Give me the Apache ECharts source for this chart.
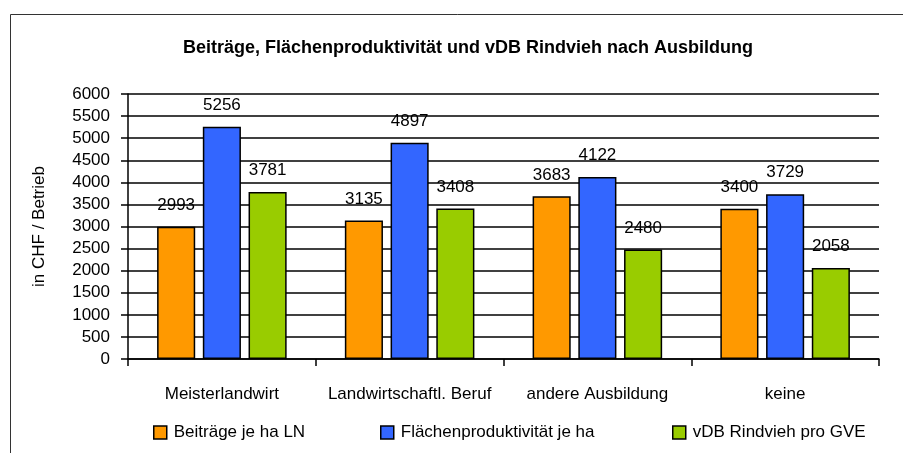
<!DOCTYPE html>
<html>
<head>
<meta charset="utf-8">
<script src="https://cdn.jsdelivr.net/npm/echarts@6/dist/echarts.min.js"></script>
<style>
  html, body { margin: 0; padding: 0; background: #fff; }
  #chart { width: 903px; height: 453px; }
</style>
</head>
<body>
<div id="chart"></div>
<script>
// Ausbildung categories and values (CHF per Betrieb)
const categories = ['Meisterlandwirt', 'Landwirtschaftl. Beruf', 'andere Ausbildung', 'keine'];
const seriesNames = ['Beiträge je ha LN', 'Flächenproduktivität je ha', 'vDB Rindvieh pro GVE'];
const beitraege = [2993, 3135, 3683, 3400];
const flaechenproduktivitaet = [5256, 4897, 4122, 3729];
const vdbRindvieh = [3781, 3408, 2480, 2058];
const yTicks = { min: 0, max: 6000, step: 500 };

const colors = ['#FF9900', '#3366FF', '#99CC00'];
const font = '"Liberation Sans", Arial, sans-serif';
const valuesBySeries = [beitraege, flaechenproduktivitaet, vdbRindvieh];

const chart = echarts.init(document.getElementById('chart'), null, { renderer: 'canvas' });

const series = valuesBySeries.map((vals, i) => ({
  name: seriesNames[i],
  type: 'bar',
  data: vals,
  barGap: '20%',
  barCategoryGap: '31%',
  itemStyle: { color: colors[i], borderColor: '#000', borderWidth: 1.5 },
  label: {
    show: true,
    position: 'top',
    distance: 13,
    color: '#000',
    fontFamily: font,
    fontSize: 17
  },
  emphasis: { disabled: true }
}));

// one legend per entry so each sits at its own column
const legendLefts = [148, 375, 667];
const legends = seriesNames.map((n, i) => ({
  data: [n],
  left: legendLefts[i],
  top: 419,
  itemWidth: 13,
  itemHeight: 13,
  itemGap: 0,
  icon: 'rect',
  itemStyle: { borderColor: '#000', borderWidth: 1.5 },
  textStyle: { color: '#000', fontFamily: font, fontSize: 17, padding: [0, 0, 0, 2] },
  selectedMode: false
}));

chart.setOption({
  animation: false,
  backgroundColor: '#fff',
  color: colors,
  title: {
    text: 'Beiträge, Flächenproduktivität und vDB Rindvieh nach Ausbildung',
    left: 463,
    textAlign: 'center',
    top: 34,
    textStyle: { color: '#000', fontFamily: font, fontSize: 18, fontWeight: 'bold' }
  },
  legend: legends,
  grid: { left: 128, right: 24, top: 94, bottom: 94, containLabel: false },
  xAxis: {
    type: 'category',
    data: categories,
    axisLine: { lineStyle: { color: '#000', width: 1.5 } },
    axisTick: { show: true, alignWithLabel: false, length: 7, lineStyle: { color: '#000', width: 1.5 } },
    axisLabel: { color: '#000', fontFamily: font, fontSize: 17, margin: 27, interval: 0 },
    splitLine: { show: false }
  },
  yAxis: {
    type: 'value',
    min: yTicks.min,
    max: yTicks.max,
    interval: yTicks.step,
    name: 'in CHF / Betrieb',
    nameLocation: 'middle',
    nameRotate: 90,
    nameGap: 80,
    nameTextStyle: { color: '#000', fontFamily: font, fontSize: 17 },
    axisLine: { show: true, lineStyle: { color: '#000', width: 1.5 } },
    axisTick: { show: true, length: 7, lineStyle: { color: '#000', width: 1.5 } },
    axisLabel: { color: '#000', fontFamily: font, fontSize: 17, margin: 18, formatter: v => String(v) },
    splitLine: { show: true, lineStyle: { color: '#000', width: 1.5 } }
  },
  graphic: [
    {
      type: 'polyline',
      shape: { points: [[10.5, 460], [10.5, 14.5], [910, 14.5]] },
      style: { stroke: '#333', lineWidth: 1, fill: null },
      silent: true
    }
  ],
  series: series
});
</script>
</body>
</html>
